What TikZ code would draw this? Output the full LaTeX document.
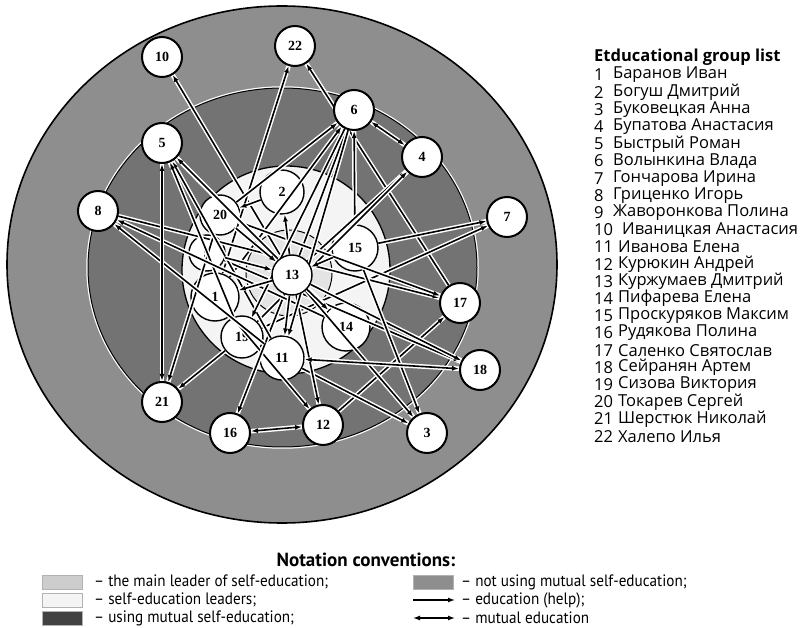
\documentclass[tikz,border=0pt]{standalone}
\usepackage{fontspec}
\setmainfont{Liberation Serif}
\newfontfamily\listfont{Open Sans}
\newfontfamily\legfont[FakeStretch=0.92]{PT Sans}
\newfontfamily\legtitlefont{PT Sans}
\usetikzlibrary{arrows.meta}

\definecolor{outerring}{HTML}{8E8E8E}
\definecolor{midring}{HTML}{737373}
\definecolor{leaderzone}{HTML}{F4F4F4}
\definecolor{mainzone}{HTML}{E4E4E4}
\definecolor{mutualzone}{HTML}{424242}

\pgfdeclarelayer{zones}
\pgfdeclarelayer{under}
\pgfsetlayers{zones,under,main}

\tikzset{
  pupil/.style={circle,draw,line width=2pt,fill=white,minimum size=40pt,inner sep=0pt,
    font=\bfseries\fontsize{14}{14}\selectfont},
  inpupil/.style={pupil,line width=1.4pt},
  link/.style={->,line width=1.6pt,preaction={draw=white,line width=4.6pt,-}},
  mutual/.style={link,<->},
  swatch/.style={draw=gray!60,line width=0.8pt,minimum width=40pt,minimum height=14pt,inner sep=0pt},
  legtext/.style={anchor=west,inner sep=0pt,font=\legfont\fontsize{16.5}{16.5}\selectfont},
  listtext/.style={anchor=west,inner sep=0pt,font=\listfont\fontsize{16.5}{16.5}\selectfont}
}

\begin{document}
\begin{tikzpicture}[x=1pt,y=-1pt,>={Latex[length=7pt,width=5pt]}]
\useasboundingbox (0,0) rectangle (804,628);

% zones of the group
\begin{pgfonlayer}{zones}
\filldraw[fill=outerring,line width=1.6pt] (282,264.5) ellipse [x radius=275,y radius=258.5];
\filldraw[fill=midring,line width=1pt,preaction={draw=white,line width=3.5pt}] (282.5,267.5) ellipse [x radius=194.5,y radius=179.5];
\filldraw[fill=leaderzone,line width=1.3pt] (286,270) circle (104);
\filldraw[fill=mainzone,line width=1pt] (289,273) circle (43);
\end{pgfonlayer}

% pupils
\foreach \n/\x/\y in {10/162/57, 22/295/46, 6/354/110, 4/422/157, 5/162/143, 8/98/211,
    7/507/217, 17/460/303, 18/480/370, 21/162/402, 16/230/433, 12/323/425, 3/427/433}
  \node[pupil] (n\n) at (\x,\y) {\n};
\node[inpupil] (n13) at (292,275) {13};
\begin{pgfonlayer}{under}
\foreach \n/\x/\y/\d in {2/282/192/44, 20/220/215/40, 9/207/253/36, 15/355/248/46,
    1/215/297/48, 14/346/327/48, 19/242/337/42, 11/282/358/44}
  \node[inpupil,minimum size=\d pt] (n\n) at (\x,\y) {\n};

% education (help)
\foreach \a/\b in {13/10, 1/22, 17/22, 15/6, 13/6, 20/6, 1/6, 13/4, 19/4, 15/7, 19/7,
    8/17, 20/17, 12/17, 9/18, 13/18, 11/3, 13/3, 15/3, 13/12, 1/12, 13/16, 20/21,
    19/21, 13/5, 11/5, 14/5, 19/5, 14/8, 11/8, 2/20, 13/2, 1/13, 20/13, 9/13, 6/11,
    6/19, 13/14, 13/11, 13/1, 15/13}
  \draw[link] (n\a) -- (n\b);
% mutual education
\foreach \a/\b in {6/4, 5/21, 16/12, 11/18}
  \draw[mutual] (n\a) -- (n\b);
\end{pgfonlayer}

% group list
\node[anchor=west,inner sep=0pt,font=\listfont\bfseries\fontsize{16.5}{16.5}\selectfont] (title) at (594,57) {Etducational group list};
\foreach \i/\nm in {1/Баранов Иван, 2/Богуш Дмитрий, 3/Буковецкая Анна, 4/Бупатова Анастасия,
    5/Быстрый Роман, 6/Волынкина Влада, 7/Гончарова Ирина, 8/Гриценко Игорь,
    9/Жаворонкова Полина, 10/Иваницкая Анастасия, 11/Иванова Елена, 12/Курюкин Андрей,
    13/Куржумаев Дмитрий, 14/Пифарева Елена, 15/Проскуряков Максим, 16/Рудякова Полина,
    17/Саленко Святослав, 18/Сейранян Артем, 19/Сизова Виктория, 20/Токарев Сергей,
    21/Шерстюк Николай, 22/Халепо Илья}{
  \pgfmathsetmacro\yy{75+17.2*(\i-1)}
  \pgfmathsetmacro\xx{\i<10 ? 613 : (\i==10 ? 622 : 618)}
  \node[listtext] (num\i) at (594,\yy) {\i};
  \node[listtext] (name\i) at (\xx,\yy) {\nm};
}

% notation conventions
\node[font=\legtitlefont\bfseries\fontsize{19}{19}\selectfont] (legtitle) at (366,560) {Notation conventions:};
\node[swatch,fill=mainzone!90!black] (sw1) at (62,582) {};
\node[swatch,fill=leaderzone] (sw2) at (62,600) {};
\node[swatch,fill=mutualzone] (sw3) at (62,618) {};
\node[swatch,fill=outerring] (sw4) at (433,582) {};
\node[legtext] (lt1) at (94,582) {– the main leader of self-education;};
\node[legtext] (lt2) at (94,600) {– self-education leaders;};
\node[legtext] (lt3) at (94,618) {– using mutual self-education;};
\node[legtext] (lt4) at (461,582) {– not using mutual self-education;};
\node[legtext] (lt5) at (461,600) {– education (help);};
\node[legtext] (lt6) at (461,618) {– mutual education};
\coordinate (ha) at (413,600);
\coordinate (hb) at (455,600);
\coordinate (ma) at (413,618);
\coordinate (mb) at (455,618);
\draw[->,line width=1.3pt] (ha) -- (hb);
\draw[<->,line width=1.3pt] (ma) -- (mb);
\end{tikzpicture}
\end{document}
